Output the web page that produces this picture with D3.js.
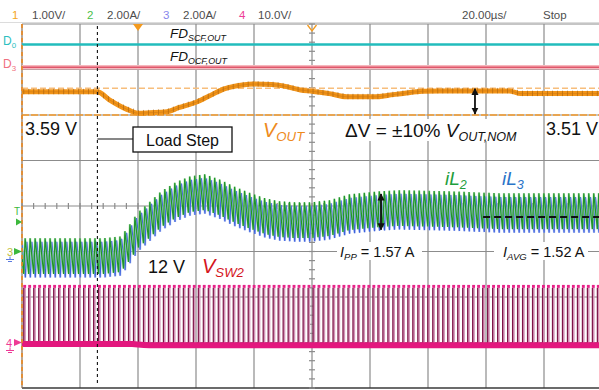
<!DOCTYPE html>
<html>
<head>
<meta charset="utf-8">
<script src="https://cdn.jsdelivr.net/npm/d3@7/dist/d3.min.js"></script>
<style>
  body { margin: 0; background: #fff; }
  svg { display: block; font-family: "Liberation Sans", Arial, sans-serif; }
</style>
</head>
<body>
<svg id="chart"></svg>
<script>
// Scope header (channel scales, timebase)
const headerTexts = ['1', '1.00V/', '2', '2.00A/', '3', '2.00A/', '4', '10.0V/', '20.00µs/', 'Stop'];
const timeDivUs = 20;

// VOUT (ch1), volts vs time in µs (0 = screen centre)
const voutTime  = [-100, -74, -70, -64, -60, -56, -50, -46, -40, -36, -30, -24, -20, -14, -10, -4, 0, 6, 12, 16, 22, 26, 32, 38, 44, 68, 72, 100];
const voutVolts = [3.31, 3.31, 3.14, 2.93, 2.84, 2.85, 2.87, 2.96, 3.08, 3.20, 3.38, 3.46, 3.48, 3.47, 3.44, 3.35, 3.32, 3.27, 3.20, 3.20, 3.20, 3.23, 3.28, 3.32, 3.33, 3.33, 3.27, 3.27];

// inductor currents (ch2 = iL2, ch3 = iL3), mean level in amps
const iLTime  = [-100, -72, -66, -64, -60, -58, -52, -47, -42, -37, -32, -27, -21, -16, -11, -6, 0, 6, 13, 23, 30, 48, 65, 100];
const iL2Amps = [-0.20, -0.20, -0.12, 0.19, 0.94, 1.16, 1.86, 2.26, 2.52, 2.61, 2.39, 2.08, 1.77, 1.55, 1.42, 1.38, 1.38, 1.47, 1.73, 1.86, 1.91, 1.86, 1.77, 1.77];
const iL3Amps = [-0.36, -0.36, -0.28, 0.03, 0.78, 1.00, 1.70, 2.10, 2.36, 2.45, 2.23, 1.92, 1.61, 1.39, 1.26, 1.22, 1.22, 1.31, 1.57, 1.70, 1.75, 1.70, 1.61, 1.61];
const ippAmps = 1.57;
const iavgAmps = 1.52;

// switch node VSW2 (ch4)
const vinVolts = 12;
const swLowTime  = [-100, -62, -56, 100];
const swLowVolts = [0, 0, -0.3, -0.3];
const swPeriodUs = 1.72;
const dutyCycle = 0.275;
const firstEdgeUs = -99.4;
const iL3PhaseUs = 0.57;

// events / cursors
const loadStepUs = -74;
const triggerUs = -60;
const cursorVolts = [3.39, 2.80];

// ---- layout ----
const W = 599, H = 390;
const plot = {left: 22, right: 602, top: 24, bottom: 388};
const svg = d3.select('#chart').attr('width', W).attr('height', H);

const x = d3.scaleLinear().domain([-5 * timeDivUs, 5 * timeDivUs]).range([plot.left, plot.right]);
const div = d3.scaleLinear().domain([-4, 4]).range([plot.bottom, plot.top]);

// channel: volts (or amps) per div, position (div), offset
const ch1 = {scale: 1, pos: 2.5, offset: 3.3};
const ch23 = {scale: 2, pos: -1, offset: 0};
const ch4 = {scale: 10, pos: -3, offset: 0};
const yOf = (ch, v) => div((v - ch.offset) / ch.scale + ch.pos);

// header
const headerX = [12, 32, 87, 107, 163, 183, 239, 258, 462, 543];
const headerColor = ['#f5a623', '#4d4d4d', '#4cbf4c', '#4d4d4d', '#8585ec', '#4d4d4d', '#ee3b96', '#4d4d4d', '#4d4d4d', '#4d4d4d'];
svg.append('g').selectAll('text').data(headerTexts).join('text')
  .attr('x', (d, i) => headerX[i]).attr('y', 19)
  .attr('font-size', 11.5).attr('fill', (d, i) => headerColor[i])
  .text(d => d);
svg.append('line').attr('x1', 0).attr('x2', W).attr('y1', 22.5).attr('y2', 22.5)
  .attr('stroke', '#dcdcdc').attr('stroke-width', 1);

// clip for traces
svg.append('clipPath').attr('id', 'clip').append('rect')
  .attr('x', plot.left).attr('y', plot.top).attr('width', W - plot.left).attr('height', plot.bottom - plot.top);

// grid
const grid = svg.append('g').attr('stroke', '#8c8c8c').attr('stroke-width', 1.2);
d3.range(-80, 101, 20).forEach(t => {
  grid.append('line').attr('x1', x(t)).attr('x2', x(t)).attr('y1', plot.top).attr('y2', plot.bottom);
});
d3.range(-4, 5).forEach(d => {
  grid.append('line').attr('x1', plot.left).attr('x2', W).attr('y1', div(d)).attr('y2', div(d))
    .attr('stroke', d === -4 ? '#3a3a3a' : '#8c8c8c').attr('stroke-width', d === -4 ? 1.6 : 1.2);
});
grid.append('line').attr('x1', plot.left).attr('x2', plot.left).attr('y1', plot.top).attr('y2', plot.bottom)
  .attr('stroke', '#8a6a4a');
d3.range(-100, 101, timeDivUs / 5).forEach(t => {
  grid.append('line').attr('x1', x(t)).attr('x2', x(t)).attr('y1', div(0) - 3).attr('y2', div(0) + 3);
});
d3.range(-4, 4.01, 0.2).forEach(d => {
  grid.append('line').attr('x1', x(0) - 3).attr('x2', x(0) + 3).attr('y1', div(d)).attr('y2', div(d));
});

// digital lines
svg.append('line').attr('x1', plot.left).attr('x2', W).attr('y1', div(3.55)).attr('y2', div(3.55))
  .attr('stroke', '#22bcbc').attr('stroke-width', 2.5);
svg.append('line').attr('x1', plot.left).attr('x2', W).attr('y1', div(3.05)).attr('y2', div(3.05))
  .attr('stroke', '#f7b7bd').attr('stroke-width', 4.5);
svg.append('line').attr('x1', plot.left).attr('x2', W).attr('y1', div(3.05)).attr('y2', div(3.05))
  .attr('stroke', '#e0566a').attr('stroke-width', 1.4);

// ch1 cursors
svg.append('line').attr('x1', plot.left).attr('x2', W).attr('y1', yOf(ch1, cursorVolts[0])).attr('y2', yOf(ch1, cursorVolts[0]))
  .attr('stroke', '#f7be7c').attr('stroke-width', 1.5).attr('stroke-dasharray', '6,3');
svg.append('line').attr('x1', plot.left).attr('x2', W).attr('y1', yOf(ch1, cursorVolts[1])).attr('y2', yOf(ch1, cursorVolts[1]))
  .attr('stroke', '#f39a2c').attr('stroke-width', 1.3).attr('stroke-dasharray', '7,2');

const traces = svg.append('g').attr('clip-path', 'url(#clip)');

// switch pulses
const edges = d3.range(firstEdgeUs, 100, swPeriodUs);
const lowAt = d3.scaleLinear().domain(swLowTime).range(swLowVolts).clamp(true);
const sw = traces.append('g');
sw.selectAll('rect.pulse').data(edges).join('rect').attr('class', 'pulse')
  .attr('x', t => x(t))
  .attr('width', t => x(t + dutyCycle * swPeriodUs) - x(t) + 0.8)
  .attr('y', yOf(ch4, vinVolts))
  .attr('height', t => yOf(ch4, lowAt(t)) - yOf(ch4, vinVolts))
  .attr('fill', '#d396b8');
sw.selectAll('line.edge').data(edges).join('line').attr('class', 'edge')
  .attr('x1', t => x(t)).attr('x2', t => x(t))
  .attr('y1', yOf(ch4, vinVolts)).attr('y2', t => yOf(ch4, lowAt(t)))
  .attr('stroke', '#7e1448').attr('stroke-width', 1.2);
sw.selectAll('line.cap').data(edges).join('line').attr('class', 'cap')
  .attr('x1', t => x(t) - 0.5).attr('x2', t => x(t + dutyCycle * swPeriodUs) + 1)
  .attr('y1', yOf(ch4, vinVolts) - 1.5).attr('y2', yOf(ch4, vinVolts) - 1.5)
  .attr('stroke', '#e8238a').attr('stroke-width', 3);
sw.append('path')
  .attr('d', d3.line().x(d => x(d)).y(d => yOf(ch4, lowAt(d)) + 1.5)(d3.range(-100, 101, 2)))
  .attr('fill', 'none').attr('stroke', '#e3177e').attr('stroke-width', 6);

// inductor currents with ripple
function rippleTrace(amps, phase) {
  const centre = d3.scaleLinear().domain(iLTime).range(amps).clamp(true);
  const pts = [];
  for (let t = firstEdgeUs + phase - swPeriodUs; t < 102; t += swPeriodUs) {
    pts.push([t, centre(t) - ippAmps / 2]);
    const tp = t + dutyCycle * swPeriodUs;
    pts.push([tp, centre(tp) + ippAmps / 2]);
  }
  return pts;
}
const iLine = d3.line().x(d => x(d[0])).y(d => yOf(ch23, d[1]));
const iL3Pts = rippleTrace(iL3Amps, iL3PhaseUs);
const iL2Pts = rippleTrace(iL2Amps, 0);
traces.append('path').attr('d', iLine(iL3Pts)).attr('fill', 'none')
  .attr('stroke', '#a8b8f2').attr('stroke-width', 2.2).attr('opacity', 0.8);
traces.append('path').attr('d', iLine(iL3Pts)).attr('fill', 'none')
  .attr('stroke', '#3b62dc').attr('stroke-width', 1.1);
traces.append('path').attr('d', iLine(iL2Pts)).attr('fill', 'none')
  .attr('stroke', '#9ad69a').attr('stroke-width', 2.2).attr('opacity', 0.7);
traces.append('path').attr('d', iLine(iL2Pts)).attr('fill', 'none')
  .attr('stroke', '#1f962a').attr('stroke-width', 1.2);

// VOUT
const voutAt = d3.scaleLinear().domain(voutTime).range(voutVolts).clamp(true);
const vLine = d3.line().x(d => x(d[0])).y(d => yOf(ch1, d[1])).curve(d3.curveMonotoneX);
const voutPts = voutTime.map((t, i) => [t, voutVolts[i]]);
traces.append('path').attr('d', vLine(voutPts)).attr('fill', 'none')
  .attr('stroke', '#f29418').attr('stroke-width', 5);
traces.append('g').selectAll('line').data(edges).join('line')
  .attr('x1', t => x(t)).attr('x2', t => x(t))
  .attr('y1', t => yOf(ch1, voutAt(t)) - 3).attr('y2', t => yOf(ch1, voutAt(t)) + 2.5)
  .attr('stroke', '#9b5a10').attr('stroke-width', 0.8).attr('opacity', 0.7);
traces.append('path').attr('d', vLine(voutPts)).attr('fill', 'none')
  .attr('stroke', '#c87410').attr('stroke-width', 0.8).attr('opacity', 0.6);

// left trigger-position line, load step line, IAVG line
svg.append('line').attr('x1', plot.left).attr('x2', plot.left).attr('y1', plot.top).attr('y2', plot.bottom)
  .attr('stroke', '#ec8a22').attr('stroke-width', 1.6).attr('stroke-dasharray', '4,3');
svg.append('line').attr('x1', x(loadStepUs)).attr('x2', x(loadStepUs)).attr('y1', plot.top + 2).attr('y2', plot.bottom - 2)
  .attr('stroke', '#111').attr('stroke-width', 1.1).attr('stroke-dasharray', '3,3');
svg.append('line').attr('x1', x(59)).attr('x2', W).attr('y1', yOf(ch23, iavgAmps)).attr('y2', yOf(ch23, iavgAmps))
  .attr('stroke', '#111').attr('stroke-width', 2).attr('stroke-dasharray', '7,4');

// arrows
const defs = svg.append('defs');
defs.append('marker').attr('id', 'ah').attr('viewBox', '0 0 10 10').attr('refX', 9).attr('refY', 5)
  .attr('markerWidth', 4).attr('markerHeight', 4).attr('orient', 'auto-start-reverse')
  .append('path').attr('d', 'M0,0L10,5L0,10z').attr('fill', '#111');
function dblArrow(px, y1, y2) {
  svg.append('line').attr('x1', px).attr('x2', px).attr('y1', y1).attr('y2', y2)
    .attr('stroke', '#111').attr('stroke-width', 1.8)
    .attr('marker-start', 'url(#ah)').attr('marker-end', 'url(#ah)');
}
dblArrow(x(56.2), yOf(ch1, cursorVolts[0]) + 0.5, yOf(ch1, cursorVolts[1]) - 1);
dblArrow(x(23.8), yOf(ch23, 1.74 + ippAmps / 2), yOf(ch23, 1.74 - ippAmps / 2));

// rich text helper: parts = [text, sub?, italic?]
function rich(px, py, parts, size, color, anchor) {
  const t = svg.append('text').attr('x', px).attr('y', py).attr('fill', color)
    .attr('font-size', size).attr('text-anchor', anchor || 'start');
  let shifted = 0;
  parts.forEach(p => {
    const s = t.append('tspan').text(p[0]);
    if (p[2]) s.attr('font-style', 'italic');
    if (p[1]) {
      s.attr('font-size', size * 0.66);
      if (!shifted) { s.attr('dy', size * 0.22); shifted = 1; }
    } else if (shifted) {
      s.attr('dy', -size * 0.22); shifted = 0;
    }
  });
  return t;
}
function bg(x0, y0, w, h) {
  svg.append('rect').attr('x', x0).attr('y', y0).attr('width', w).attr('height', h).attr('fill', '#fff');
}

rich(170, 38, [['FD', 0, 1], ['SCF,OUT', 1, 1]], 13.5, '#111');
rich(170, 61, [['FD', 0, 1], ['OCF,OUT', 1, 1]], 13.5, '#111');

rich(25, 135, [['3.59 V']], 18, '#111');
rich(598, 135, [['3.51 V']], 18, '#111', 'end');
rich(263, 137, [['V', 0, 1], ['OUT', 1, 1]], 20, '#ee8a1c');
bg(343, 119, 172, 22);
rich(345, 137, [['ΔV = ±10% '], ['V', 0, 1], ['OUT,NOM', 1, 1]], 19, '#111');

svg.append('line').attr('x1', x(loadStepUs)).attr('x2', 133).attr('y1', 139).attr('y2', 139)
  .attr('stroke', '#111').attr('stroke-width', 1.2);
svg.append('rect').attr('x', 133).attr('y', 127).attr('width', 99).attr('height', 25)
  .attr('fill', '#fff').attr('stroke', '#111').attr('stroke-width', 1.3);
rich(182.5, 145.5, [['Load Step']], 16, '#111', 'middle');

rich(445, 185, [['iL', 0, 1], ['2', 1, 1]], 19, '#1f9e3c');
rich(502, 185, [['iL', 0, 1], ['3', 1, 1]], 19, '#2a74c8');

rich(148, 273, [['12 V']], 18, '#111');
rich(202, 273, [['V', 0, 1], ['SW2', 1, 1]], 20, '#d4141c');

bg(337, 242, 85, 18);
rich(340, 257, [['I', 0, 1], ['PP', 1, 1], [' = 1.57 A']], 14.5, '#111');
bg(494, 242, 94, 18);
rich(503, 257, [['I', 0, 1], ['AVG', 1, 1], [' = 1.52 A']], 14.5, '#111');

// left-edge channel markers
rich(3, 45, [['D'], ['0', 1]], 12, '#2cc0c0');
rich(3, 68, [['D'], ['3', 1]], 12, '#f07080');
rich(14, 215, [['T']], 10, '#3cb83c');
svg.append('path').attr('d', `M16,${div(-0.35) - 3.5}L22,${div(-0.35)}L16,${div(-0.35) + 3.5}z`).attr('fill', '#3cb83c');
const g23 = yOf(ch23, 0);
rich(7, g23 + 4, [['3']], 11, '#c0c040');
svg.append('path').attr('d', `M14,${g23 - 3.5}L22,${g23}L14,${g23 + 3.5}z`).attr('fill', '#3cb83c');
svg.append('path').attr('d', `M10,${g23 + 5}V${g23 + 8}M6,${g23 + 8}H14M8,${g23 + 10}H12`)
  .attr('stroke', '#5a7ae0').attr('stroke-width', 1).attr('fill', 'none');
const g4 = yOf(ch4, 0);
rich(6, g4 + 4, [['4']], 11, '#ee3b96');
svg.append('path').attr('d', `M14,${g4 - 3.5}L22,${g4}L14,${g4 + 3.5}z`).attr('fill', '#ee3b96');
svg.append('path').attr('d', `M10,${g4 + 5}V${g4 + 8}M6,${g4 + 8}H14M8,${g4 + 10}H12`)
  .attr('stroke', '#ee3b96').attr('stroke-width', 1).attr('fill', 'none');

// top markers: trigger point and time reference
svg.append('path').attr('d', `M${x(triggerUs) - 5},${plot.top}L${x(triggerUs) + 5},${plot.top}L${x(triggerUs)},${plot.top + 7}z`)
  .attr('fill', '#f39a1e');
svg.append('path').attr('d', `M${x(0) - 4.5},${plot.top + 1}L${x(0)},${plot.top + 7}L${x(0) + 4.5},${plot.top + 1}`)
  .attr('fill', 'none').attr('stroke', '#f39a1e').attr('stroke-width', 1.3);
</script>
</body>
</html>
